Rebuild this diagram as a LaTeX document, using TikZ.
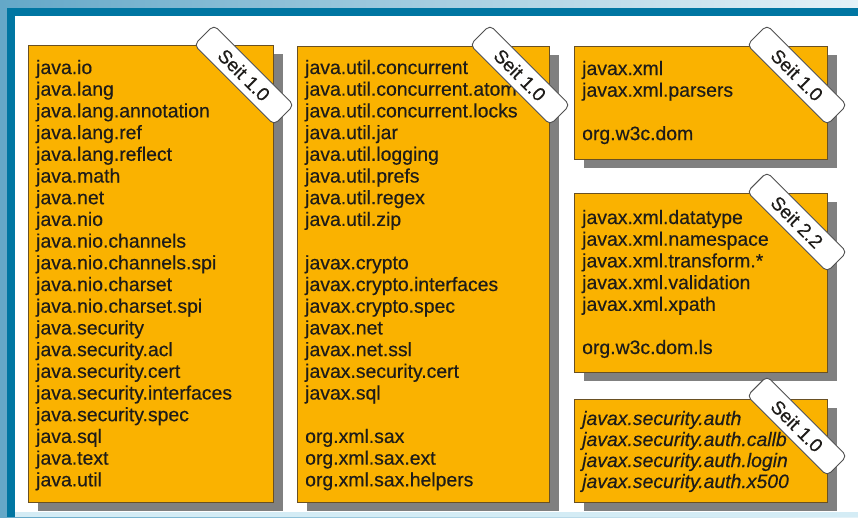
\documentclass[tikz,border=0pt]{standalone}
\usepackage{fontspec}
\setmainfont{Liberation Sans}[UprightFeatures={FakeBold=0.4}, ItalicFeatures={FakeBold=0.4}]
\definecolor{bgL}{RGB}{100,168,200}
\definecolor{bgR}{RGB}{228,242,248}
\definecolor{band}{RGB}{0,118,162}
\definecolor{strip}{RGB}{212,236,245}
\definecolor{boxfill}{RGB}{250,178,0}
\definecolor{boxline}{RGB}{105,80,35}
\definecolor{shadowc}{RGB}{128,128,128}
\definecolor{textc}{RGB}{30,28,25}
\definecolor{tagline}{RGB}{80,80,80}
\tikzset{
  box/.style={fill=boxfill, draw=boxline, line width=0.8pt},
  shadowbox/.style={fill=shadowc},
  txt/.style={anchor=base west, inner sep=0pt, font=\fontsize{19.4}{21.7}\selectfont, text=textc},
  itxt/.style={txt, font=\fontsize{19.4}{21.7}\selectfont\itshape},
  tagbox/.style={draw=tagline, fill=white, rounded corners=5pt, line width=0.9pt,
    minimum width=113pt, minimum height=28pt, rotate=-45,
    font=\fontsize{19}{19}\selectfont, text=textc, inner sep=0pt}
}
\begin{document}
\begin{tikzpicture}[x=1pt, y=-1pt]
\useasboundingbox (0,0) rectangle (858,517);
% frame
\shade[left color=bgL, right color=bgR] (0,0) rectangle (858,517);
\fill[band] (7,8) rectangle (858,517);
\fill[white] (15,16) rectangle (858,512);
\fill[strip] (15,512) rectangle (858,517);
% shadows
\fill[shadowc] (38,54) rectangle (283,511);
\fill[shadowc] (307,55) rectangle (559,511);
\fill[shadowc] (584,55) rectangle (837,168);
\fill[shadowc] (584,202) rectangle (837,381);
\fill[shadowc] (584,408) rectangle (837,511);
% boxes
\draw[box] (28,45) rectangle (273,502);
\draw[box] (297,46) rectangle (549,502);
\draw[box] (574,46) rectangle (827,159);
\draw[box] (574,193) rectangle (827,372);
\draw[box] (574,399) rectangle (827,502);
% box 1 text
\foreach \t [count=\i from 0] in {java.io, java.lang, java.lang.annotation, java.lang.ref,
  java.lang.reflect, java.math, java.net, java.nio, java.nio.channels, java.nio.channels.spi,
  java.nio.charset, java.nio.charset.spi, java.security, java.security.acl, java.security.cert,
  java.security.interfaces, java.security.spec, java.sql, java.text, java.util}
  \node[txt] (a\i) at (36,{74+\i*21.7}) {\t};
% box 2 text
\foreach \t [count=\i from 0] in {java.util.concurrent, java.util.concurrent.atom,
  java.util.concurrent.locks, java.util.jar, java.util.logging, java.util.prefs,
  java.util.regex, java.util.zip}
  \node[txt] (b\i) at (305,{74+\i*21.7}) {\t};
\foreach \t [count=\i from 9] in {javax.crypto, javax.crypto.interfaces, javax.crypto.spec,
  javax.net, javax.net.ssl, javax.security.cert, javax.sql}
  \node[txt] (b\i) at (305,{74+\i*21.7}) {\t};
\foreach \t [count=\i from 17] in {org.xml.sax, org.xml.sax.ext, org.xml.sax.helpers}
  \node[txt] (b\i) at (305,{74+\i*21.7}) {\t};
% box 3 text
\node[txt] (c0) at (582,75) {javax.xml};
\node[txt] (c1) at (582,96.7) {javax.xml.parsers};
\node[txt] (c2) at (582,140.1) {org.w3c.dom};
% box 4 text
\foreach \t [count=\i from 0] in {javax.xml.datatype, javax.xml.namespace,
  javax.xml.transform.*, javax.xml.validation, javax.xml.xpath}
  \node[txt] (d\i) at (582,{224+\i*21.7}) {\t};
\node[txt] (d6) at (582,354) {org.w3c.dom.ls};
% box 5 text
\foreach \t [count=\i from 0] in {javax.security.auth, javax.security.auth.callb,
  javax.security.auth.login, javax.security.auth.x500}
  \node[itxt] (e\i) at (582,{425+\i*21}) {\t};
% tags
\node[tagbox] (t1) at (244,75) {Seit 1.0};
\node[tagbox] (t2) at (520,75) {Seit 1.0};
\node[tagbox] (t3) at (797,75) {Seit 1.0};
\node[tagbox] (t4) at (797,222) {Seit 2.2};
\node[tagbox] (t5) at (797,426) {Seit 1.0};
\end{tikzpicture}
\end{document}
